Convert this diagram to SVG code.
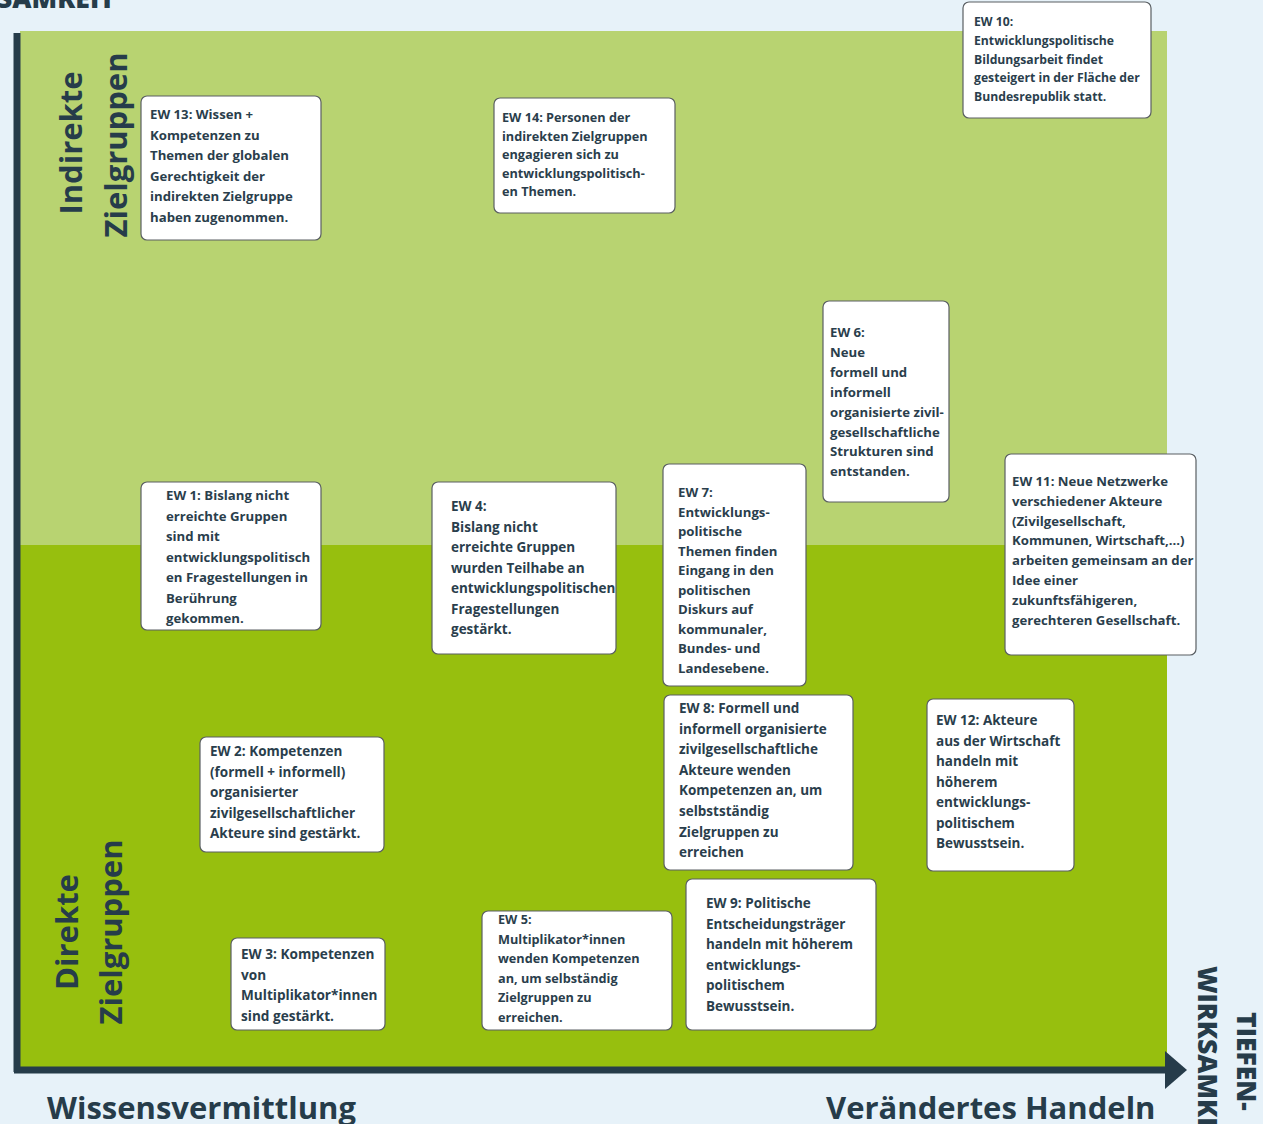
<svg xmlns="http://www.w3.org/2000/svg" width="1263" height="1124" viewBox="0 0 1263 1124">
<defs>
<style>
.bg{fill:#e7f2f9}
.box{fill:#ffffff;stroke:#5a5f63;stroke-width:1.2}
.t{font-family:"Open Sans",Lato,"Liberation Sans",sans-serif;font-weight:700;font-size:13.2px;fill:#2a3e4c}
.big{font-family:"Open Sans",Lato,"Liberation Sans",sans-serif;font-weight:700;font-size:31px;fill:#263c4a}
.ax{font-family:"Open Sans",Lato,"Liberation Sans",sans-serif;font-weight:800;font-size:26.5px;fill:#263c4a}
.axis{stroke:#263c4a;stroke-width:7;fill:none}
</style>
<marker id="arrow" markerUnits="userSpaceOnUse" markerWidth="24" markerHeight="40" refX="2" refY="20" orient="auto">
<path d="M0,1 L22,20 L0,39 Z" fill="#263c4a"/>
</marker>
</defs>
<rect class="bg" x="0" y="0" width="1263" height="1124"/>
<text class="ax" x="-3" y="8">SAMKEIT</text>
<g id="regions">
<rect x="20" y="31" width="1147" height="515" fill="#b8d371"/>
<rect x="20" y="545" width="1147" height="522" fill="#97bf0e"/>
</g>
<g id="axes">
<line class="axis" x1="17" y1="33" x2="17" y2="1072"/>
<line class="axis" x1="14" y1="1070" x2="1167" y2="1070" marker-end="url(#arrow)"/>
</g>
<g id="labels">
<text class="big" transform="translate(82,143) rotate(-90)" text-anchor="middle">Indirekte</text>
<text class="big" transform="translate(127,145) rotate(-90)" text-anchor="middle">Zielgruppen</text>
<text class="big" transform="translate(78,932) rotate(-90)" text-anchor="middle">Direkte</text>
<text class="big" transform="translate(122,932) rotate(-90)" text-anchor="middle">Zielgruppen</text>
<text class="big" x="47" y="1119">Wissensvermittlung</text>
<text class="big" x="826" y="1119">Verändertes Handeln</text>
<text class="ax" transform="translate(1237,1012) rotate(90)">TIEFEN-</text>
<text class="ax" transform="translate(1198,966) rotate(90)">WIRKSAMKEIT</text>
</g>
<g id="ew13">
<rect class="box" x="141" y="96" width="180" height="144" rx="6"/>
<text class="t" x="150" y="119"><tspan x="150">EW 13: Wissen +</tspan><tspan x="150" dy="20.6">Kompetenzen zu</tspan><tspan x="150" dy="20.6">Themen der globalen</tspan><tspan x="150" dy="20.6">Gerechtigkeit der</tspan><tspan x="150" dy="20.6">indirekten Zielgruppe</tspan><tspan x="150" dy="20.6">haben zugenommen.</tspan></text>
</g>
<g id="ew14">
<rect class="box" x="494" y="98" width="181" height="115" rx="6"/>
<text class="t" x="502" y="122" style="font-size:12.7px"><tspan x="502">EW 14: Personen der</tspan><tspan x="502" dy="18.6">indirekten Zielgruppen</tspan><tspan x="502" dy="18.6">engagieren sich zu</tspan><tspan x="502" dy="18.6">entwicklungspolitisch-</tspan><tspan x="502" dy="18.6">en Themen.</tspan></text>
</g>
<g id="ew10">
<rect class="box" x="963" y="2" width="188" height="116" rx="6"/>
<text class="t" x="974" y="26" style="font-size:12.2px"><tspan x="974">EW 10:</tspan><tspan x="974" dy="18.8">Entwicklungspolitische</tspan><tspan x="974" dy="18.8">Bildungsarbeit findet</tspan><tspan x="974" dy="18.8">gesteigert in der Fläche der</tspan><tspan x="974" dy="18.8">Bundesrepublik statt.</tspan></text>
</g>
<g id="ew6">
<rect class="box" x="823" y="301" width="126" height="201" rx="6"/>
<text class="t" x="830" y="337"><tspan x="830">EW 6:</tspan><tspan x="830" dy="19.9">Neue</tspan><tspan x="830" dy="19.9">formell und</tspan><tspan x="830" dy="19.9">informell</tspan><tspan x="830" dy="19.9">organisierte zivil-</tspan><tspan x="830" dy="19.9">gesellschaftliche</tspan><tspan x="830" dy="19.9">Strukturen sind</tspan><tspan x="830" dy="19.9">entstanden.</tspan></text>
</g>
<g id="ew1">
<rect class="box" x="141" y="482" width="180" height="148" rx="6"/>
<text class="t" x="166" y="500"><tspan x="166">EW 1: Bislang nicht</tspan><tspan x="166" dy="20.5">erreichte Gruppen</tspan><tspan x="166" dy="20.5">sind mit</tspan><tspan x="166" dy="20.5">entwicklungspolitisch</tspan><tspan x="166" dy="20.5">en Fragestellungen in</tspan><tspan x="166" dy="20.5">Berührung</tspan><tspan x="166" dy="20.5">gekommen.</tspan></text>
</g>
<g id="ew4">
<rect class="box" x="432" y="482" width="184" height="172" rx="6"/>
<text class="t" x="451" y="511" style="font-size:13.5px"><tspan x="451">EW 4:</tspan><tspan x="451" dy="20.5">Bislang nicht</tspan><tspan x="451" dy="20.5">erreichte Gruppen</tspan><tspan x="451" dy="20.5">wurden Teilhabe an</tspan><tspan x="451" dy="20.5">entwicklungspolitischen</tspan><tspan x="451" dy="20.5">Fragestellungen</tspan><tspan x="451" dy="20.5">gestärkt.</tspan></text>
</g>
<g id="ew7">
<rect class="box" x="663" y="464" width="143" height="222" rx="6"/>
<text class="t" x="678" y="497"><tspan x="678">EW 7:</tspan><tspan x="678" dy="19.5">Entwicklungs-</tspan><tspan x="678" dy="19.5">politische</tspan><tspan x="678" dy="19.5">Themen finden</tspan><tspan x="678" dy="19.5">Eingang in den</tspan><tspan x="678" dy="19.5">politischen</tspan><tspan x="678" dy="19.5">Diskurs auf</tspan><tspan x="678" dy="19.5">kommunaler,</tspan><tspan x="678" dy="19.5">Bundes- und</tspan><tspan x="678" dy="19.5">Landesebene.</tspan></text>
</g>
<g id="ew11">
<rect class="box" x="1005" y="454" width="191" height="201" rx="6"/>
<text class="t" x="1012" y="486"><tspan x="1012">EW 11: Neue Netzwerke</tspan><tspan x="1012" dy="19.8">verschiedener Akteure</tspan><tspan x="1012" dy="19.8">(Zivilgesellschaft,</tspan><tspan x="1012" dy="19.8">Kommunen, Wirtschaft,…)</tspan><tspan x="1012" dy="19.8">arbeiten gemeinsam an der</tspan><tspan x="1012" dy="19.8">Idee einer</tspan><tspan x="1012" dy="19.8">zukunftsfähigeren,</tspan><tspan x="1012" dy="19.8">gerechteren Gesellschaft.</tspan></text>
</g>
<g id="ew8">
<rect class="box" x="664" y="695" width="189" height="175" rx="6"/>
<text class="t" x="679" y="713" style="font-size:13.5px"><tspan x="679">EW 8: Formell und</tspan><tspan x="679" dy="20.6">informell organisierte</tspan><tspan x="679" dy="20.6">zivilgesellschaftliche</tspan><tspan x="679" dy="20.6">Akteure wenden</tspan><tspan x="679" dy="20.6">Kompetenzen an, um</tspan><tspan x="679" dy="20.6">selbstständig</tspan><tspan x="679" dy="20.6">Zielgruppen zu</tspan><tspan x="679" dy="20.6">erreichen</tspan></text>
</g>
<g id="ew12">
<rect class="box" x="927" y="699" width="147" height="172" rx="6"/>
<text class="t" x="936" y="725" style="font-size:13.5px"><tspan x="936">EW 12: Akteure</tspan><tspan x="936" dy="20.5">aus der Wirtschaft</tspan><tspan x="936" dy="20.5">handeln mit</tspan><tspan x="936" dy="20.5">höherem</tspan><tspan x="936" dy="20.5">entwicklungs-</tspan><tspan x="936" dy="20.5">politischem</tspan><tspan x="936" dy="20.5">Bewusstsein.</tspan></text>
</g>
<g id="ew2">
<rect class="box" x="200" y="737" width="184" height="115" rx="6"/>
<text class="t" x="210" y="756" style="font-size:13.5px"><tspan x="210">EW 2: Kompetenzen</tspan><tspan x="210" dy="20.5">(formell + informell)</tspan><tspan x="210" dy="20.5">organisierter</tspan><tspan x="210" dy="20.5">zivilgesellschaftlicher</tspan><tspan x="210" dy="20.5">Akteure sind gestärkt.</tspan></text>
</g>
<g id="ew3">
<rect class="box" x="231" y="938" width="154" height="92" rx="6"/>
<text class="t" x="241" y="959" style="font-size:13.6px"><tspan x="241">EW 3: Kompetenzen</tspan><tspan x="241" dy="20.7">von</tspan><tspan x="241" dy="20.7">Multiplikator*innen</tspan><tspan x="241" dy="20.7">sind gestärkt.</tspan></text>
</g>
<g id="ew5">
<rect class="box" x="482" y="911" width="190" height="119" rx="6"/>
<text class="t" x="498" y="924" style="font-size:12.7px"><tspan x="498">EW 5:</tspan><tspan x="498" dy="19.6">Multiplikator*innen</tspan><tspan x="498" dy="19.6">wenden Kompetenzen</tspan><tspan x="498" dy="19.6">an, um selbständig</tspan><tspan x="498" dy="19.6">Zielgruppen zu</tspan><tspan x="498" dy="19.6">erreichen.</tspan></text>
</g>
<g id="ew9">
<rect class="box" x="686" y="879" width="190" height="151" rx="6"/>
<text class="t" x="706" y="908" style="font-size:13.5px"><tspan x="706">EW 9: Politische</tspan><tspan x="706" dy="20.5">Entscheidungsträger</tspan><tspan x="706" dy="20.5">handeln mit höherem</tspan><tspan x="706" dy="20.5">entwicklungs-</tspan><tspan x="706" dy="20.5">politischem</tspan><tspan x="706" dy="20.5">Bewusstsein.</tspan></text>
</g>
</svg>
